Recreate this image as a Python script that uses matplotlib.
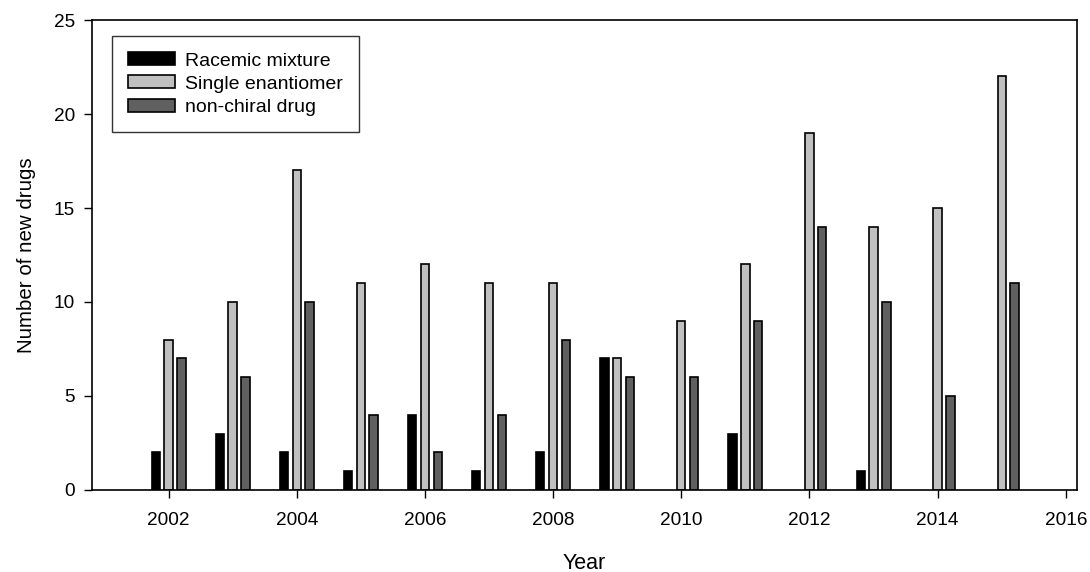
import matplotlib
matplotlib.use("Agg")
import matplotlib.pyplot as plt
import numpy as np

plt.rcParams['font.family'] = ['Liberation Sans', 'DejaVu Sans']

years = [2002, 2003, 2004, 2005, 2006, 2007, 2008, 2009, 2010, 2011, 2012, 2013, 2014, 2015]
racemic = [2, 3, 2, 1, 4, 1, 2, 7, 0, 3, 0, 1, 0, 0]
single = [8, 10, 17, 11, 12, 11, 11, 7, 9, 12, 19, 14, 15, 22]
nonchiral = [7, 6, 10, 4, 2, 4, 8, 6, 6, 9, 14, 10, 5, 11]
labels = ["Racemic mixture", "Single enantiomer", "non-chiral drug"]
colors = ["#000000", "#c0c0c0", "#606060"]

fig = plt.figure(figsize=(10.9, 5.72), dpi=100)
ax = fig.add_axes([0.0841, 0.1434, 0.9884 - 0.0841, 0.965 - 0.1434])

x = np.array(years, dtype=float)
w = 0.13
off = 0.2
for vals, dx, c, lab in zip([racemic, single, nonchiral], [-off, 0, off], colors, labels):
    v = np.array(vals, dtype=float)
    mask = v > 0
    ax.bar(x[mask] + dx, v[mask], width=w, color=c, edgecolor="black", linewidth=1.2, label=lab)

ax.set_xlim(2000.8, 2016.18)
ax.set_ylim(0, 25)
ax.set_xticks(range(2002, 2017, 2))
ax.set_yticks(range(0, 26, 5))
ax.tick_params(direction='out', length=6, width=1, labelsize=13.7)
ax.tick_params(axis='x', pad=10)
ax.tick_params(axis='y', pad=6)
for s in ax.spines.values():
    s.set_linewidth(1.2)

ax.set_xlabel("Year", fontsize=15.5, labelpad=17)
ax.set_ylabel("Number of new drugs", fontsize=14.8, labelpad=13)

leg = ax.legend(loc='upper left', bbox_to_anchor=(0.0203, 0.9666), fontsize=14.0,
                frameon=True, fancybox=False, edgecolor='black', handlelength=2.4,
                handleheight=0.65, labelspacing=0.3, borderpad=0.85, handletextpad=0.5,
                borderaxespad=0)
leg.get_frame().set_linewidth(1.0)

fig.savefig("out.png", dpi=100)
